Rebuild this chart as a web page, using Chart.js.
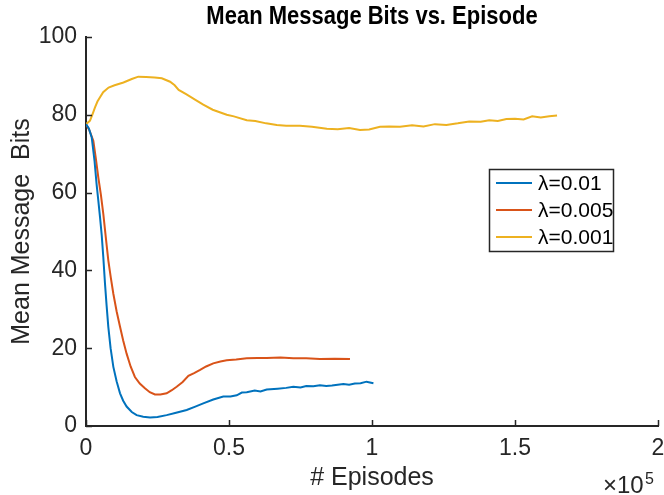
<!DOCTYPE html>
<html>
<head>
<meta charset="utf-8">
<script src="https://cdn.jsdelivr.net/npm/chart.js@4.4.1/dist/chart.umd.min.js"></script>
<style>
  html, body { margin: 0; padding: 0; background: #fff; }
  #wrap { width: 664px; height: 495px; }
</style>
</head>
<body>
<div id="wrap"><canvas id="chart" width="664" height="495"></canvas></div>
<script>
/* ===== Mean Message Bits vs. Episode ===== */

const FONT = "Helvetica, Arial, 'Liberation Sans', sans-serif";
const INK = '#262626';

// x tick values (episodes) and y ticks
const xTicks = [0, 50000, 100000, 150000, 200000];
const yTicks = [0, 20, 40, 60, 80, 100];

// lambda = 0.01
const episodesA = [0, 1000, 2000, 3000, 3700, 4300, 4900, 5500, 6050, 6640, 7200, 7800, 8600, 9560,
  10700, 11900, 13000, 14200, 16000, 17700, 20000, 22400, 25000, 28200, 31500, 35200, 38000, 41000,
  44500, 48000, 50500, 52700, 54500, 56200, 59000, 61000, 63200, 67000, 70000, 72500, 75000, 77000,
  79500, 81800, 84000, 86000, 88000, 90000, 92000, 94000, 96000, 98100, 100500];
const bitsA = [77.6, 76.5, 74.2, 68, 62.2, 58, 53.7, 49, 43.4, 36.6, 31, 25.5, 20, 15.2,
  11.5, 8.4, 6.5, 5.0, 3.6, 2.8, 2.4, 2.2, 2.3, 2.8, 3.4, 4.1, 4.9, 5.8,
  6.8, 7.6, 7.6, 7.9, 8.6, 8.7, 9.1, 8.9, 9.4, 9.6, 9.8, 10.1, 9.9, 10.3,
  10.2, 10.5, 10.3, 10.4, 10.6, 10.8, 10.6, 10.9, 11.0, 11.4, 11.0];

// lambda = 0.005
const episodesB = [0, 1200, 2560, 3400, 4300, 5200, 6050, 7000, 7800, 8700, 9560, 10700, 11900, 13000,
  14200, 15600, 17100, 18800, 20600, 22300, 24100, 26000, 28200, 30000, 31700, 33800, 35800, 37800,
  39900, 42000, 44500, 47000, 49200, 52500, 56200, 60000, 63200, 68000, 72500, 77000, 81800, 87000, 92300];
const bitsB = [77.6, 76, 73.3, 69, 63.9, 59.5, 54.5, 48, 42.6, 38, 34.0, 29.5, 25.5, 22,
  18.6, 15.3, 12.6, 10.9, 9.7, 8.7, 8.1, 8.1, 8.4, 9.2, 10.1, 11.3, 12.9, 13.6,
  14.4, 15.3, 16.1, 16.6, 16.9, 17.1, 17.4, 17.5, 17.5, 17.6, 17.4, 17.4, 17.2, 17.3, 17.2];

// lambda = 0.001
const episodesC = [0, 1400, 2200, 3150, 4000, 4900, 6000, 7900, 10000, 13100, 16000, 18300, 21000, 24000,
  26500, 29400, 31000, 32400, 35000, 38400, 41000, 44300, 47000, 49200, 51700, 56200, 59200, 63000,
  66700, 70000, 74800, 79000, 84200, 88000, 92000, 95800, 99000, 102800, 106000, 109800, 114000, 118000,
  122000, 126000, 130000, 134000, 138000, 141000, 144000, 147000, 150000, 153000, 156000, 159000, 162000, 164700];
const bitsC = [77.6, 78.5, 80, 81.9, 83.4, 84.5, 85.8, 87.0, 87.6, 88.3, 89.2, 89.8, 89.7, 89.6,
  89.4, 88.5, 87.6, 86.4, 85.3, 83.8, 82.6, 81.3, 80.6, 80.0, 79.6, 78.6, 78.4, 77.8,
  77.4, 77.2, 77.2, 76.9, 76.4, 76.3, 76.6, 76.1, 76.2, 76.9, 77.0, 76.9, 77.3, 77.0,
  77.6, 77.4, 77.8, 78.3, 78.2, 78.6, 78.4, 78.9, 79.0, 78.8, 79.6, 79.3, 79.6, 79.8];

const seriesLabels = ['λ=0.01', 'λ=0.005', 'λ=0.001'];
const seriesColors = ['#0072BD', '#D95319', '#EDB120'];

const toPoints = (xs, ys) => xs.map((x, i) => ({ x, y: ys[i] }));

/**
 * Draws MATLAB-like decorations: inward ticks, title, axis labels,
 * exponent note and the boxed legend.
 */
const matlabDecor = {
  id: 'matlabDecor',
  afterDraw(chart) {
    const { ctx, chartArea: a, scales } = chart;
    ctx.save();
    ctx.strokeStyle = INK;
    ctx.lineWidth = 1.5;
    ctx.beginPath();
    xTicks.forEach(v => {
      const px = Math.round(scales.x.getPixelForValue(v)) + 0.5;
      ctx.moveTo(px, a.bottom);
      ctx.lineTo(px, a.bottom - 6);
    });
    yTicks.forEach(v => {
      const py = Math.round(scales.y.getPixelForValue(v)) + 0.5;
      ctx.moveTo(a.left, py);
      ctx.lineTo(a.left + 6, py);
    });
    ctx.stroke();

    // title, slightly condensed like the original
    ctx.fillStyle = '#000';
    ctx.textAlign = 'center';
    ctx.textBaseline = 'middle';
    ctx.save();
    ctx.translate((a.left + a.right) / 2, 17);
    ctx.scale(0.88, 1);
    ctx.font = `bold 25px ${FONT}`;
    ctx.fillText('Mean Message Bits vs. Episode', 0, 0);
    ctx.restore();

    ctx.fillStyle = INK;
    ctx.font = `25px ${FONT}`;
    ctx.fillText('# Episodes', (a.left + a.right) / 2, 478);
    ctx.save();
    ctx.translate(22, (a.top + a.bottom) / 2);
    ctx.rotate(-Math.PI / 2);
    ctx.fillText('Mean Message  Bits', 0, 0);
    ctx.restore();

    ctx.textAlign = 'left';
    ctx.textBaseline = 'alphabetic';
    ctx.font = `24px ${FONT}`;
    ctx.fillText('×10', 603, 493);
    ctx.font = `16px ${FONT}`;
    ctx.fillText('5', 645, 484);

    // legend
    const lx = 489, ly = 169, lw = 124, lh = 82;
    ctx.fillStyle = '#fff';
    ctx.fillRect(lx, ly, lw, lh);
    ctx.strokeStyle = INK;
    ctx.lineWidth = 1.5;
    ctx.strokeRect(lx + 0.5, ly + 0.5, lw, lh);
    ctx.font = `21px ${FONT}`;
    ctx.textBaseline = 'middle';
    chart.data.datasets.forEach((ds, i) => {
      const ry = ly + 14 + i * 27;
      ctx.strokeStyle = ds.borderColor;
      ctx.lineWidth = 2;
      ctx.beginPath();
      ctx.moveTo(lx + 7, ry);
      ctx.lineTo(lx + 43, ry);
      ctx.stroke();
      ctx.fillStyle = '#000';
      ctx.fillText(ds.label, lx + 49, ry + 1);
    });
    ctx.restore();
  }
};

new Chart(document.getElementById('chart'), {
  type: 'line',
  data: {
    datasets: [
      { label: seriesLabels[0], data: toPoints(episodesA, bitsA), borderColor: seriesColors[0] },
      { label: seriesLabels[1], data: toPoints(episodesB, bitsB), borderColor: seriesColors[1] },
      { label: seriesLabels[2], data: toPoints(episodesC, bitsC), borderColor: seriesColors[2] },
    ].map(d => ({ ...d, borderWidth: 2, pointRadius: 0, tension: 0, fill: false }))
  },
  options: {
    responsive: false,
    animation: false,
    layout: { padding: { top: 37, right: 6, left: 0, bottom: 0 } },
    plugins: {
      legend: { display: false },
      title: { display: false },
      tooltip: { enabled: false }
    },
    scales: {
      x: {
        type: 'linear',
        min: 0,
        max: 200000,
        afterFit(scale) {
          scale.height = 69;
          scale.paddingLeft = 0;
          scale.paddingRight = 0;
        },
        afterBuildTicks(scale) { scale.ticks = xTicks.map(v => ({ value: v })); },
        ticks: {
          padding: 9,
          color: INK,
          font: { family: FONT, size: 23 },
          maxRotation: 0,
          callback: v => String(v / 100000)
        },
        grid: { display: false, drawTicks: false },
        border: { display: true, color: INK, width: 2 }
      },
      y: {
        min: 0,
        max: 100,
        afterFit(scale) {
          scale.width = 86;
          scale.paddingTop = 0;
          scale.paddingBottom = 0;
        },
        afterBuildTicks(scale) { scale.ticks = yTicks.map(v => ({ value: v })); },
        ticks: {
          padding: 9,
          color: INK,
          font: { family: FONT, size: 23 }
        },
        grid: { display: false, drawTicks: false },
        border: { display: true, color: INK, width: 2 }
      }
    }
  },
  plugins: [matlabDecor]
});
</script>
</body>
</html>
